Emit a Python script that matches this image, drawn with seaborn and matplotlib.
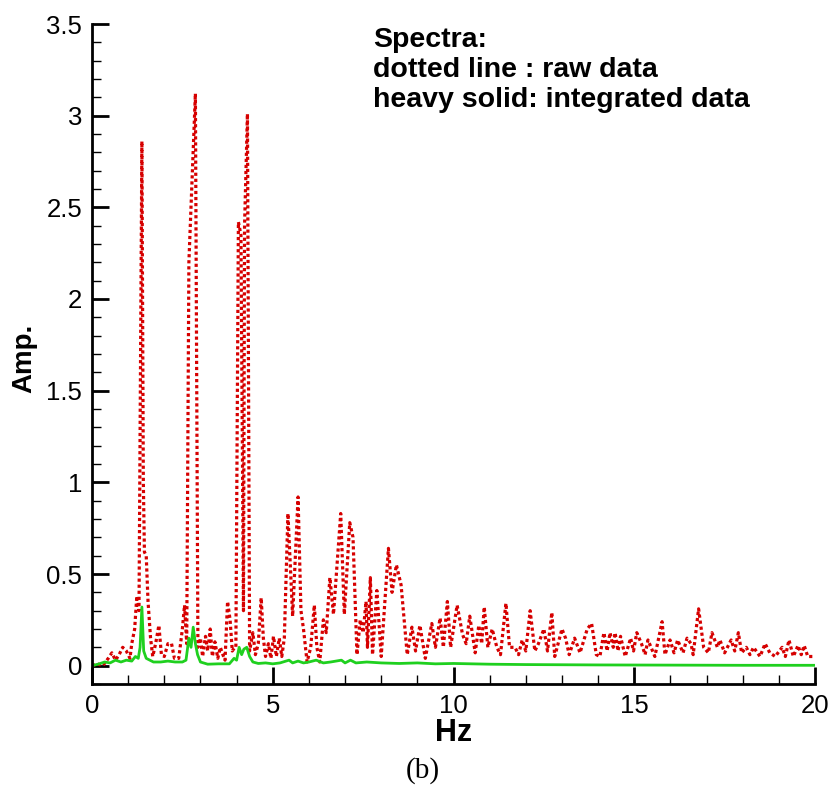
import numpy as np
import pandas as pd
import matplotlib
matplotlib.use("Agg")
import matplotlib.pyplot as plt
from matplotlib.ticker import MultipleLocator, FuncFormatter
import seaborn as sns

# ---- data: raw spectrum (dotted red), vertices ----
raw_freq = [0.00, 0.15, 0.30, 0.45, 0.55, 0.65, 0.75, 0.85, 0.95, 1.05,
            1.10, 1.18, 1.24, 1.30, 1.38, 1.42, 1.45, 1.50, 1.55, 1.62,
            1.68, 1.76, 1.85, 1.92, 2.00, 2.10, 2.20, 2.28, 2.40, 2.50,
            2.56, 2.62, 2.68, 2.86, 2.93, 3.00, 3.06, 3.14, 3.20, 3.27,
            3.33, 3.40, 3.48, 3.55, 3.62, 3.68, 3.75, 3.82, 3.88, 3.95,
            3.98, 4.05, 4.12, 4.19, 4.22, 4.30, 4.36, 4.45, 4.52, 4.60,
            4.68, 4.74, 4.80, 4.88, 4.95, 5.02, 5.10, 5.18, 5.25, 5.32,
            5.42, 5.55, 5.70, 5.78, 5.85, 5.95, 6.05, 6.15, 6.22, 6.30,
            6.40, 6.48, 6.58, 6.68, 6.88, 6.98, 7.13, 7.22, 7.33, 7.42,
            7.50, 7.58, 7.62, 7.70, 7.76, 7.88, 8.00, 8.20, 8.30, 8.42,
            8.55, 8.72, 8.85, 8.95, 9.07, 9.22, 9.40, 9.50, 9.63, 9.72,
            9.83, 9.92, 10.10, 10.25, 10.35, 10.45, 10.60, 10.70, 10.78, 10.85,
            10.95, 11.07, 11.20, 11.30, 11.45, 11.55, 11.70, 11.80, 11.90, 12.00,
            12.12, 12.25, 12.35, 12.50, 12.60, 12.72, 12.80, 13.00, 13.10, 13.20,
            13.35, 13.50, 13.70, 13.82, 13.95, 14.05, 14.16, 14.25, 14.33, 14.42,
            14.47, 14.55, 14.62, 14.75, 14.90, 14.98, 15.07, 15.20, 15.30, 15.38,
            15.57, 15.77, 15.85, 15.99, 16.10, 16.20, 16.35, 16.46, 16.57, 16.63,
            16.78, 16.92, 17.05, 17.15, 17.30, 17.37, 17.50, 17.68, 17.78, 17.88,
            17.97, 18.10, 18.20, 18.30, 18.48, 18.62, 18.75, 18.90, 19.09, 19.18,
            19.28, 19.40, 19.53, 19.62, 19.70, 19.80, 19.95]
raw_amp = [0.00, 0.01, 0.00, 0.04, 0.07, 0.03, 0.06, 0.10, 0.08, 0.04,
           0.12, 0.20, 0.38, 0.30, 2.86, 1.00, 0.62, 0.60, 0.35, 0.15,
           0.05, 0.12, 0.22, 0.06, 0.05, 0.12, 0.12, 0.04, 0.04, 0.20,
           0.33, 0.12, 2.20, 3.12, 0.10, 0.15, 0.05, 0.16, 0.08, 0.20,
           0.05, 0.13, 0.04, 0.10, 0.06, 0.03, 0.35, 0.25, 0.08, 0.10,
           0.10, 2.42, 2.35, 0.30, 2.40, 3.01, 0.08, 0.18, 0.06, 0.12,
           0.37, 0.15, 0.05, 0.12, 0.04, 0.16, 0.05, 0.15, 0.05, 0.15,
           0.83, 0.27, 0.92, 0.30, 0.20, 0.02, 0.10, 0.33, 0.10, 0.02,
           0.25, 0.18, 0.48, 0.28, 0.83, 0.28, 0.78, 0.70, 0.06, 0.25,
           0.18, 0.35, 0.10, 0.48, 0.06, 0.41, 0.05, 0.64, 0.40, 0.55,
           0.44, 0.06, 0.21, 0.08, 0.22, 0.04, 0.23, 0.10, 0.26, 0.10,
           0.35, 0.10, 0.33, 0.17, 0.12, 0.27, 0.07, 0.22, 0.12, 0.32,
           0.10, 0.20, 0.10, 0.06, 0.34, 0.10, 0.10, 0.06, 0.14, 0.08,
           0.30, 0.08, 0.12, 0.20, 0.08, 0.29, 0.05, 0.20, 0.15, 0.06,
           0.15, 0.07, 0.20, 0.23, 0.06, 0.05, 0.18, 0.08, 0.18, 0.10,
           0.18, 0.08, 0.16, 0.05, 0.15, 0.08, 0.18, 0.12, 0.06, 0.14,
           0.05, 0.24, 0.06, 0.14, 0.07, 0.14, 0.07, 0.15, 0.12, 0.06,
           0.31, 0.10, 0.07, 0.18, 0.10, 0.14, 0.07, 0.14, 0.08, 0.18,
           0.07, 0.10, 0.06, 0.10, 0.05, 0.12, 0.07, 0.05, 0.10, 0.05,
           0.14, 0.05, 0.11, 0.06, 0.11, 0.05, 0.05]

# ---- data: integrated spectrum (solid green) ----
int_freq = [0.00, 0.20, 0.35, 0.50, 0.65, 0.80, 0.95, 1.10, 1.20, 1.28,
            1.33, 1.38, 1.43, 1.50, 1.60, 1.70, 1.90, 2.10, 2.30, 2.50,
            2.60, 2.68, 2.74, 2.80, 2.86, 2.92, 3.00, 3.20, 3.50, 3.80,
            3.93, 4.00, 4.07, 4.14, 4.20, 4.28, 4.36, 4.45, 4.60, 4.80,
            5.00, 5.20, 5.45, 5.55, 5.70, 5.85, 6.00, 6.20, 6.40, 6.60,
            6.90, 7.00, 7.15, 7.30, 7.60, 8.00, 8.50, 9.00, 9.50, 10.00,
            11.00, 12.00, 13.00, 14.00, 16.00, 18.00, 20.00]
int_amp = [0.000, 0.010, 0.020, 0.015, 0.030, 0.020, 0.030, 0.025, 0.050, 0.040,
           0.100, 0.320, 0.080, 0.040, 0.030, 0.020, 0.020, 0.025, 0.020, 0.020,
           0.030, 0.150, 0.100, 0.210, 0.120, 0.060, 0.020, 0.008, 0.010, 0.010,
           0.040, 0.030, 0.100, 0.060, 0.090, 0.100, 0.050, 0.020, 0.012, 0.015,
           0.010, 0.015, 0.030, 0.015, 0.025, 0.015, 0.020, 0.030, 0.015, 0.020,
           0.030, 0.015, 0.030, 0.015, 0.020, 0.015, 0.012, 0.015, 0.010, 0.012,
           0.008, 0.006, 0.005, 0.004, 0.003, 0.002, 0.002]

legend_lines = ["Spectra:", "dotted line : raw data", "heavy solid: integrated data"]
x_label = "Hz"
y_label = "Amp."
caption = "(b)"

raw_df = pd.DataFrame({"freq": raw_freq, "amp": raw_amp})
int_df = pd.DataFrame({"freq": int_freq, "amp": int_amp})

sns.set_theme(style="ticks")
plt.rcParams["font.family"] = ["Liberation Sans", "DejaVu Sans"]

fig = plt.figure(figsize=(8.32, 7.85), dpi=100)
ax = fig.add_axes([92 / 832, 1 - 684 / 785, (815 - 92) / 832, (684 - 24) / 785])

sns.lineplot(data=raw_df, x="freq", y="amp", ax=ax, estimator=None, sort=False,
             color="#d60000", linewidth=2.3, linestyle=(0, (1.0, 0.9)))
sns.lineplot(data=int_df, x="freq", y="amp", ax=ax, estimator=None, sort=False,
             color="#1fd01f", linewidth=2.0)

ax.set_xlim(0, 20)
ax.set_ylim(-0.1, 3.5)
ax.xaxis.set_major_locator(MultipleLocator(5))
ax.xaxis.set_minor_locator(MultipleLocator(1))
ax.yaxis.set_major_locator(MultipleLocator(0.5))
ax.yaxis.set_minor_locator(MultipleLocator(0.1))
fmt = FuncFormatter(lambda v, p: f"{v:g}")
ax.yaxis.set_major_formatter(fmt)
ax.xaxis.set_major_formatter(fmt)

for s in ["top", "right"]:
    ax.spines[s].set_visible(False)
for s in ["left", "bottom"]:
    ax.spines[s].set_linewidth(2.0)
    ax.spines[s].set_color("black")

ax.tick_params(which="major", direction="in", length=12, width=2.0, color="black",
               labelsize=18.5, labelcolor="black")
ax.tick_params(which="minor", direction="in", length=6.5, width=1.0, color="black")
ax.tick_params(axis="y", which="major", pad=7)
ax.tick_params(axis="x", which="major", pad=7)
ax.set_facecolor("white")

ax.set_xlabel(x_label, fontsize=22, fontweight="bold", color="black")
ax.set_ylabel(y_label, fontsize=20, fontweight="bold", color="black")
ax.xaxis.set_label_coords(0.5, -0.074)
ax.xaxis.label.set_va("center")
ax.yaxis.set_label_coords(-0.093, 0.494)
ax.yaxis.label.set_va("center")

baselines = [47, 77, 107]
for txt, by in zip(legend_lines, baselines):
    fig.text(373 / 832, 1 - by / 785, txt, fontsize=20.5, fontweight="bold",
             ha="left", va="baseline", color="black")

fig.text(423 / 832, 1 - 771 / 785, caption, fontsize=21, ha="center", va="center",
         family=["Liberation Serif", "DejaVu Serif"], color="black")

fig.savefig("out.png", dpi=100, facecolor="white")
